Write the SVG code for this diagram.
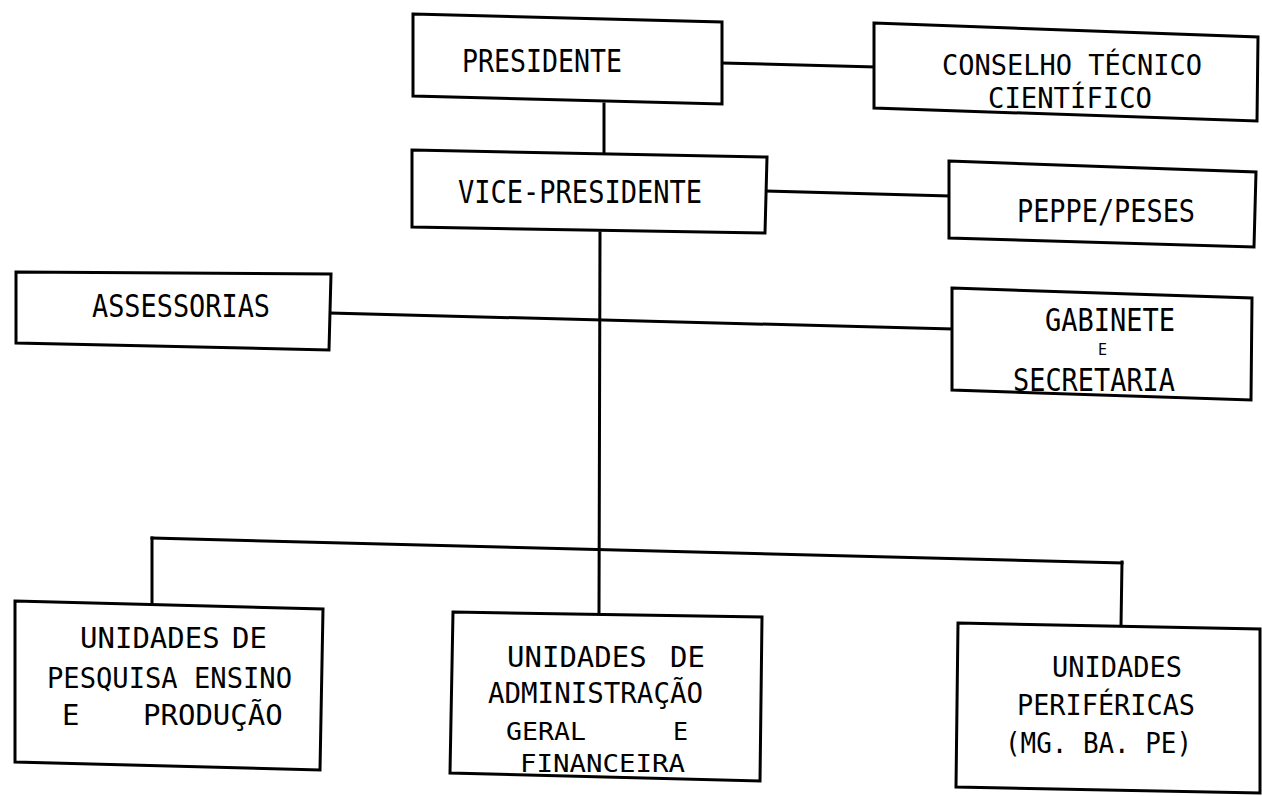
<svg xmlns="http://www.w3.org/2000/svg" width="1262" height="796" viewBox="0 0 1262 796">
<style>
.box{fill:#fff;stroke:#000;stroke-width:3;stroke-linejoin:miter}
.ln{fill:none;stroke:#000;stroke-width:3;stroke-linecap:square}
.t{font-family:"DejaVu Sans Mono","Liberation Mono",monospace;fill:#000;white-space:pre}
.big{font-size:32px}
.mid{font-size:28px}
.sm{font-size:29px}
.xs{font-size:25px}
</style>
<rect width="1262" height="796" fill="#fff"/>
<g id="connectors">
<line class="ln" x1="722" y1="63" x2="875" y2="67"/>
<line class="ln" x1="604" y1="104" x2="604" y2="153"/>
<line class="ln" x1="766" y1="191" x2="949" y2="196"/>
<line class="ln" x1="600" y1="233" x2="599" y2="614"/>
<line class="ln" x1="330" y1="313" x2="952" y2="329"/>
<line class="ln" x1="152" y1="538" x2="1122" y2="563"/>
<line class="ln" x1="152" y1="538" x2="152" y2="604"/>
<line class="ln" x1="1122" y1="562" x2="1121" y2="626"/>
</g>
<g id="presidente">
<polygon class="box" points="413,14 722,22 722,104 413,96"/>
<text class="t big" x="462" y="72" textLength="160" lengthAdjust="spacingAndGlyphs">PRESIDENTE</text>
</g>
<g id="conselho">
<polygon class="box" points="874,23 1258,37 1257,121 874,108"/>
<text class="t mid" x="942" y="75" textLength="260" lengthAdjust="spacingAndGlyphs">CONSELHO TÉCNICO</text>
<text class="t mid" x="988" y="108" textLength="164" lengthAdjust="spacingAndGlyphs">CIENTÍFICO</text>
</g>
<g id="vice-presidente">
<polygon class="box" points="412,150 767,157 765,233 412,227"/>
<text class="t big" x="458" y="203" textLength="244" lengthAdjust="spacingAndGlyphs">VICE-PRESIDENTE</text>
</g>
<g id="peppe">
<polygon class="box" points="949,161 1256,172 1254,247 949,238"/>
<text class="t big" x="1017" y="222" textLength="178" lengthAdjust="spacingAndGlyphs">PEPPE/PESES</text>
</g>
<g id="assessorias">
<polygon class="box" points="16,272 331,274 329,350 16,343"/>
<text class="t big" x="92" y="317" textLength="178" lengthAdjust="spacingAndGlyphs">ASSESSORIAS</text>
</g>
<g id="gabinete">
<polygon class="box" points="952,288 1252,298 1251,400 952,390"/>
<text class="t big" x="1045" y="331" textLength="130" lengthAdjust="spacingAndGlyphs">GABINETE</text>
<text class="t" x="1098" y="355" font-size="15">E</text>
<text class="t big" x="1013" y="391" textLength="162" lengthAdjust="spacingAndGlyphs">SECRETARIA</text>
</g>
<g id="unidades-pesquisa">
<polygon class="box" points="15,601 323,609 320,770 15,762"/>
<text class="t sm" y="648"><tspan x="80">UNIDADES</tspan><tspan x="232">DE</tspan></text>
<text class="t sm" x="47" y="688" textLength="245" lengthAdjust="spacingAndGlyphs">PESQUISA ENSINO</text>
<text class="t sm" y="725"><tspan x="62">E</tspan><tspan x="143">PRODUÇÃO</tspan></text>
</g>
<g id="unidades-administracao">
<polygon class="box" points="453,612 762,617 760,781 450,773"/>
<text class="t sm" y="667"><tspan x="507">UNIDADES</tspan><tspan x="670">DE</tspan></text>
<text class="t sm" x="488" y="703" textLength="215" lengthAdjust="spacingAndGlyphs">ADMINISTRAÇÃO</text>
<text class="t xs" y="740"><tspan x="506" textLength="80" lengthAdjust="spacingAndGlyphs">GERAL</tspan><tspan x="673">E</tspan></text>
<text class="t xs" x="520" y="772" textLength="165" lengthAdjust="spacingAndGlyphs">FINANCEIRA</text>
</g>
<g id="unidades-perifericas">
<polygon class="box" points="958,623 1260,629 1260,793 956,787"/>
<text class="t sm" x="1052" y="677" textLength="130" lengthAdjust="spacingAndGlyphs">UNIDADES</text>
<text class="t sm" x="1017" y="715" textLength="178" lengthAdjust="spacingAndGlyphs">PERIFÉRICAS</text>
<text class="t sm" x="1005" y="753" textLength="187" lengthAdjust="spacingAndGlyphs">(MG. BA. PE)</text>
</g>
</svg>
